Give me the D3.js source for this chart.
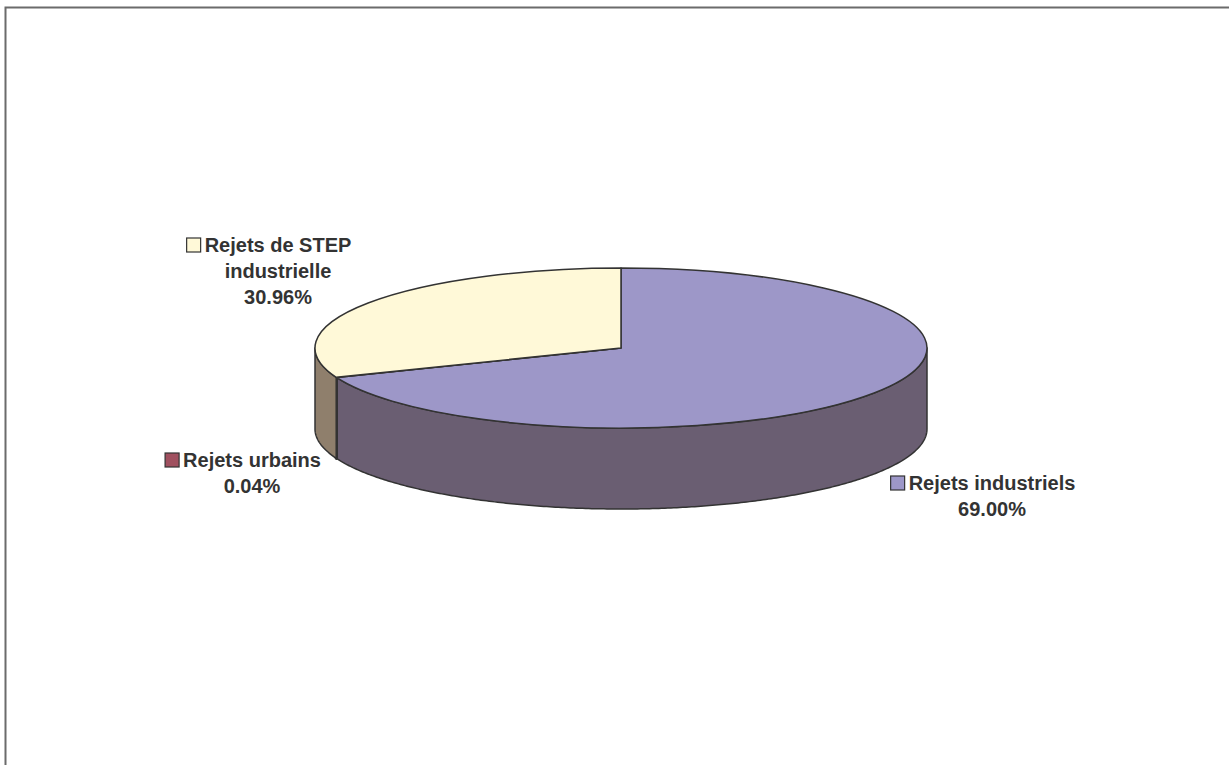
<!DOCTYPE html>
<html>
<head>
<meta charset="utf-8">
<script src="https://cdn.jsdelivr.net/npm/d3@7"></script>
<style>
  html, body { margin: 0; padding: 0; background: #fff; overflow: hidden; }
  svg { display: block; }
</style>
</head>
<body>
<div id="chart"></div>
<script>
// données
const categories = ["Rejets industriels", "Rejets urbains", "Rejets de STEP industrielle"];
const values = [69.00, 0.04, 30.96];
const labelLines = [
    ["Rejets industriels", "69.00%"],
    ["Rejets urbains", "0.04%"],
    ["Rejets de STEP", "industrielle", "30.96%"]
];

const width = 1229, height = 765;
const topColors = ["#9D97C8", "#A0505F", "#FFF9D8"];
const sideColors = ["#6A5E72", "#6E3A44", "#8F7F6C"];

const cx = 621, cy = 348, rx = 306, ry = 80, depth = 81;

const data = categories.map((c, i) => ({ name: c, value: values[i], lines: labelLines[i], i }));

const svg = d3.select("#chart").append("svg")
    .attr("width", width)
    .attr("height", height);

// cadre
svg.append("rect")
    .attr("x", 5.5).attr("y", 7.5)
    .attr("width", width + 10).attr("height", height + 10)
    .attr("fill", "none")
    .attr("stroke", "#6b6b6b")
    .attr("stroke-width", 2);

const pie = d3.pie().sort(null).value(d => d.value);
const arcs = pie(data);

const px = a => cx + rx * Math.sin(a);
const py = (a, dz = 0) => cy - ry * Math.cos(a) + dz;

// paroi extérieure (seulement la moitié avant)
function sidePath(d) {
    const lo = Math.max(d.startAngle, Math.PI / 2);
    const hi = Math.min(d.endAngle, 3 * Math.PI / 2);
    if (hi <= lo) return null;
    const n = Math.max(2, Math.ceil((hi - lo) / 0.01));
    const pts = d3.range(n + 1).map(k => lo + (hi - lo) * k / n);
    const top = pts.map(a => [px(a), py(a)]);
    const bot = pts.slice().reverse().map(a => [px(a), py(a, depth)]);
    return "M" + top.concat(bot).map(p => p[0].toFixed(2) + "," + p[1].toFixed(2)).join("L") + "Z";
}

function topPath(d) {
    const large = (d.endAngle - d.startAngle) > Math.PI ? 1 : 0;
    return `M${cx},${cy}L${px(d.startAngle)},${py(d.startAngle)}` +
        `A${rx},${ry} 0 ${large} 1 ${px(d.endAngle)},${py(d.endAngle)}Z`;
}

const g = svg.append("g");

g.selectAll("path.side")
    .data(arcs.filter(d => sidePath(d)))
    .enter().append("path")
    .attr("class", "side")
    .attr("d", sidePath)
    .attr("fill", d => sideColors[d.data.i])
    .attr("stroke", "#333")
    // la tranche minuscule (0.04%) apparaît comme un trait épais
    .attr("stroke-width", d => (d.endAngle - d.startAngle) < 0.01 ? 3 : 1.5)
    .attr("stroke-linejoin", "round");

g.selectAll("path.top")
    .data(arcs)
    .enter().append("path")
    .attr("class", "top")
    .attr("d", topPath)
    .attr("fill", d => topColors[d.data.i])
    .attr("stroke", "#333")
    .attr("stroke-width", 1.5)
    .attr("stroke-linejoin", "round");

// étiquettes
const labelPos = [
    { x: 992, y: 490 },
    { x: 252, y: 467 },
    { x: 278, y: 252 }
];
const lineH = 26;

const labels = svg.selectAll("g.label")
    .data(data)
    .enter().append("g")
    .attr("class", "label");

labels.each(function(d) {
    const grp = d3.select(this);
    const p = labelPos[d.i];
    const t = grp.append("text")
        .attr("text-anchor", "middle")
        .attr("font-family", "Liberation Sans, Arial, sans-serif")
        .attr("font-weight", "bold")
        .attr("font-size", 20)
        .attr("fill", "#333");
    d.lines.forEach((l, k) => {
        t.append("tspan")
            .attr("x", p.x)
            .attr("y", p.y + k * lineH)
            .text(l);
    });
    // petit carré de légende à gauche de la première ligne
    const w = t.select("tspan").node().getComputedTextLength();
    grp.append("rect")
        .attr("x", p.x - w / 2 - 18)
        .attr("y", p.y - 14)
        .attr("width", 14)
        .attr("height", 14)
        .attr("fill", topColors[d.i])
        .attr("stroke", "#333")
        .attr("stroke-width", 1.2);
});
</script>
</body>
</html>
